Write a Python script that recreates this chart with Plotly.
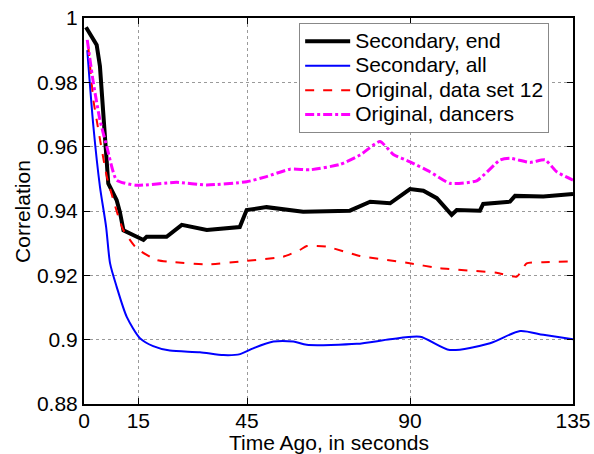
import plotly.graph_objects as go

# Secondary, end
x_sec_end = [0.55, 3.5, 4.4, 5.3, 6.7, 9.0, 9.9, 10.9, 16.4, 17.3, 22.8, 27.0, 33.9, 43.0, 44.9, 50.4, 56.9, 60.5, 73.4, 79.0, 84.5, 90.0, 93.7, 97.4, 101.5, 102.9, 109.3, 110.2, 117.6, 119.0, 126.8, 135.0]
y_sec_end = [0.9971, 0.9916, 0.985, 0.9693, 0.9486, 0.9434, 0.9397, 0.934, 0.931, 0.932, 0.932, 0.9357, 0.9341, 0.935, 0.9403, 0.9412, 0.9405, 0.9398, 0.9401, 0.9429, 0.9424, 0.9468, 0.9463, 0.944, 0.9388, 0.9403, 0.9401, 0.9422, 0.9429, 0.9447, 0.9445, 0.9453]

# Secondary, all
x_sec_all = [0.9, 2.6, 4.4, 6.1, 7.2, 9.0, 11.8, 15.5, 19.1, 23.7, 32.0, 38.5, 43.1, 46.7, 52.3, 57.8, 61.5, 75.3, 84.5, 92.8, 101.0, 112.1, 120.4, 126.8, 135.0]
y_sec_all = [0.990, 0.9662, 0.9476, 0.9351, 0.9237, 0.9165, 0.9071, 0.9004, 0.898, 0.8966, 0.8961, 0.8952, 0.8955, 0.8973, 0.8994, 0.8994, 0.8984, 0.8987, 0.9001, 0.9009, 0.8968, 0.8989, 0.9027, 0.9015, 0.9001]

# Original, data set 12
x_orig12 = [1.2, 2.6, 3.5, 6.3, 9.5, 10.9, 14.5, 20.0, 24.7, 33.9, 44.9, 55.0, 59.6, 61.5, 67.0, 76.2, 89.1, 98.3, 113.9, 119.5, 122.2, 126.8, 135.0]
y_orig12 = [0.991, 0.9745, 0.9683, 0.9507, 0.9382, 0.934, 0.9284, 0.9248, 0.9241, 0.9234, 0.9245, 0.9258, 0.9279, 0.9291, 0.9289, 0.926, 0.9239, 0.9222, 0.9208, 0.9196, 0.9237, 0.9241, 0.9243]

# Original, dancers
x_dancers = [0.9, 2.6, 4.4, 6.3, 9.0, 14.5, 25.6, 33.9, 44.9, 50.4, 56.9, 62.4, 70.7, 76.2, 81.7, 85.4, 90.0, 95.5, 101.0, 108.4, 114.9, 117.6, 123.1, 127.3, 130.5, 135.0]
y_dancers = [0.9932, 0.9797, 0.9683, 0.960, 0.9496, 0.948, 0.9489, 0.9481, 0.9491, 0.9507, 0.953, 0.9528, 0.9545, 0.9574, 0.9616, 0.9576, 0.9553, 0.9522, 0.9486, 0.9494, 0.9559, 0.9564, 0.9551, 0.9559, 0.9522, 0.9496]

series_names = ["Secondary, end", "Secondary, all", "Original, data set 12", "Original, dancers"]
x_ticks = [0, 15, 45, 90, 135]
x_tick_labels = ["0", "15", "45", "90", "135"]
y_ticks = [0.88, 0.90, 0.92, 0.94, 0.96, 0.98, 1.0]
y_tick_labels = ["0.88", "0.9", "0.92", "0.94", "0.96", "0.98", "1"]
x_title = "Time Ago, in seconds"
y_title = "Correlation"


def leg(name):
    return "<span style='font-size:21px'>" + name + "</span>"


fig = go.Figure()
fig.add_trace(go.Scatter(x=x_sec_end, y=y_sec_end, mode="lines", name=leg(series_names[0]),
                         line=dict(color="black", width=4)))
fig.add_trace(go.Scatter(x=x_sec_all, y=y_sec_all, mode="lines", name=leg(series_names[1]),
                         line=dict(color="#0000ff", width=2, shape="spline", smoothing=0.7)))
fig.add_trace(go.Scatter(x=x_orig12, y=y_orig12, mode="lines", name=leg(series_names[2]),
                         line=dict(color="#ff0000", width=2, dash="dash", shape="spline", smoothing=0.5)))
fig.add_trace(go.Scatter(x=x_dancers, y=y_dancers, mode="lines", name=leg(series_names[3]),
                         line=dict(color="#ff00ff", width=3, dash="dashdot", shape="spline", smoothing=0.5)))

axis_common = dict(showline=True, linecolor="black", linewidth=2, mirror="ticks",
                   ticks="inside", ticklen=6, tickcolor="black", tickwidth=1,
                   showgrid=True, gridcolor="#9a9a9a", griddash="dot", gridwidth=1,
                   zeroline=False, automargin=False,
                   tickfont=dict(size=21, color="black"))

fig.update_layout(
    width=594, height=454,
    margin=dict(l=84, r=21, t=18, b=50),
    paper_bgcolor="white", plot_bgcolor="white",
    font=dict(family="Liberation Sans, Arial", size=21, color="black"),
    showlegend=True,
    legend=dict(x=0.44, y=0.987, xanchor="left", yanchor="top",
                bgcolor="white", bordercolor="#888888", borderwidth=1,
                font=dict(size=16.5), tracegroupgap=0, itemwidth=45),
    xaxis=dict(range=[0, 135], tickvals=x_ticks, ticktext=x_tick_labels,
               ticklabelstandoff=-3, **axis_common),
    yaxis=dict(range=[0.88, 1.0], tickvals=y_ticks, ticktext=y_tick_labels, **axis_common),
    annotations=[
        dict(text=x_title, xref="paper", yref="paper", x=0.5, y=-0.1,
             xanchor="center", yanchor="middle", showarrow=False, font=dict(size=21)),
        dict(text=y_title, xref="paper", yref="paper", x=-0.127, y=0.5, textangle=-90,
             xanchor="center", yanchor="middle", showarrow=False, font=dict(size=21)),
    ],
)

fig.write_html("out.html", config={"displayModeBar": False},
               post_script="document.body.style.margin='0';document.body.style.overflow='hidden';")
